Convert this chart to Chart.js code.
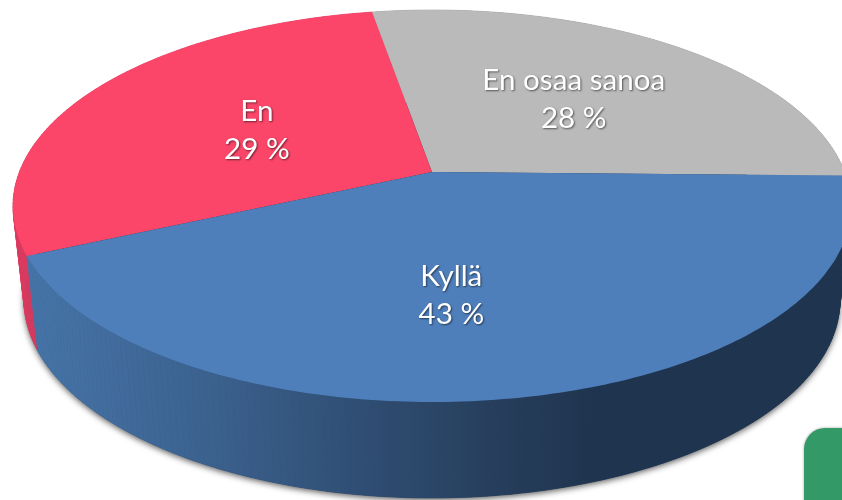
<!DOCTYPE html>
<html><head><meta charset="utf-8">
<style>html,body{margin:0;padding:0;background:#fff;overflow:hidden}canvas{display:block}</style>
<script src="https://cdn.jsdelivr.net/npm/chart.js@4"></script>
</head><body><canvas id="c" width="842" height="500"></canvas>
<script>
const categories = ['Kyllä', 'En', 'En osaa sanoa'];
const shares = [43, 29, 28];
const sliceColors = ['#4f7fbb', '#fb4669', '#bababa'];
const sideColors = [null, '#da3a60', '#9a9a9a'];
const labelRadius = [0.55, 0.5, 0.55];
const labelNudge = [[-31, 10], [0, 1.5], [4, 1]];

const tilt = -0.173, wide = 419 / 206, flat = 196 / 206;
const lowerDrop = 94, lowerWide = 408 / 206, lowerFlat = 198 / 206;

function project(t, r, e) {
  const u = r * Math.cos(t), v = r * Math.sin(t), d = 1 + tilt * v;
  return [e.x + e.a * u * Math.sqrt(1 - tilt * tilt) / d, e.y + e.b * (v + tilt) / d];
}
function rim(ctx, e, a0, a1, move) {
  const n = Math.max(2, Math.ceil(Math.abs(a1 - a0) * 60));
  for (let i = 0; i <= n; i++) {
    const p = project(a0 + (a1 - a0) * i / n, 1, e);
    (i === 0 && move) ? ctx.moveTo(p[0], p[1]) : ctx.lineTo(p[0], p[1]);
  }
}
function sweep(ctx, top, low, a0, a1) {
  const n = Math.max(2, Math.ceil((a1 - a0) * 60));
  for (let i = 0; i < n; i++) {
    const t0 = a0 + (a1 - a0) * i / n, t1 = a0 + (a1 - a0) * (i + 1) / n;
    const a = project(t0, 1, top), b = project(t1, 1, top), c = project(t1, 1, low), d = project(t0, 1, low);
    ctx.beginPath();
    ctx.moveTo(a[0], a[1]); ctx.lineTo(b[0], b[1]); ctx.lineTo(c[0], c[1]); ctx.lineTo(d[0], d[1]);
    ctx.closePath(); ctx.fill(); ctx.stroke();
  }
}
const pie3d = {
  id: 'pie3d',
  beforeDatasetsDraw(chart) {
    const ctx = chart.ctx, arcs = chart.getDatasetMeta(0).data;
    const R = arcs[0].outerRadius, x = arcs[0].x, y = arcs[0].y;
    const top = {x, y, a: R * wide, b: R * flat};
    const low = {x, y: y + lowerDrop, a: R * lowerWide, b: R * lowerFlat};

    ctx.save();
    ctx.shadowColor = 'rgba(0,0,0,0.65)';
    ctx.shadowBlur = 6; ctx.shadowOffsetX = 0; ctx.shadowOffsetY = 2;
    ctx.fillStyle = '#1f344e';
    ctx.beginPath(); rim(ctx, low, 0, Math.PI * 2, true); ctx.closePath(); ctx.fill();
    ctx.restore();

    const grad = ctx.createLinearGradient(25, 0, 842, 0);
    grad.addColorStop(0, '#4675a9');
    grad.addColorStop(0.21, '#3c6390');
    grad.addColorStop(0.40, '#304f75');
    grad.addColorStop(0.57, '#273f5d');
    grad.addColorStop(0.70, '#1f344e');
    grad.addColorStop(1, '#1f344e');

    ctx.save();
    ctx.lineWidth = 0.6;
    [2, 1, 0].forEach(i => {
      const s = arcs[i];
      ctx.fillStyle = ctx.strokeStyle = sideColors[i] || grad;
      sweep(ctx, top, low, s.startAngle, s.endAngle);
    });
    ctx.restore();

    [2, 1, 0].forEach(i => {
      const s = arcs[i], apex = project(0, 0, top);
      ctx.fillStyle = s.options.backgroundColor;
      ctx.beginPath(); ctx.moveTo(apex[0], apex[1]);
      rim(ctx, top, s.startAngle, s.endAngle, false);
      ctx.closePath(); ctx.fill();
    });

    ctx.save();
    ctx.font = '29.6px Lato';
    ctx.textAlign = 'center'; ctx.textBaseline = 'middle';
    ctx.fillStyle = '#fff';
    ctx.shadowColor = 'rgba(0,0,0,0.55)';
    ctx.shadowBlur = 2; ctx.shadowOffsetX = 1; ctx.shadowOffsetY = 1;
    arcs.forEach((s, i) => {
      const p = project((s.startAngle + s.endAngle) / 2, labelRadius[i], top);
      const lx = p[0] + labelNudge[i][0], ly = p[1] + labelNudge[i][1];
      ctx.fillText(categories[i], lx, ly - 19);
      ctx.fillText(shares[i] + ' %', lx, ly + 19);
    });
    ctx.restore();

    ctx.save();
    ctx.shadowColor = 'rgba(0,0,0,0.35)'; ctx.shadowBlur = 3;
    ctx.fillStyle = '#339966';
    ctx.beginPath(); ctx.roundRect(804, 428, 80, 110, 21); ctx.fill();
    ctx.restore();
    return false;
  }
};
new Chart(document.getElementById('c'), {
  type: 'pie',
  data: {labels: categories, datasets: [{data: shares, backgroundColor: sliceColors, borderWidth: 0}]},
  options: {
    responsive: false, animation: false, rotation: 91,
    layout: {padding: {left: 22, bottom: 88}},
    plugins: {legend: {display: false}, tooltip: {enabled: false}, title: {display: false}}
  },
  plugins: [pie3d]
});
</script></body></html>
